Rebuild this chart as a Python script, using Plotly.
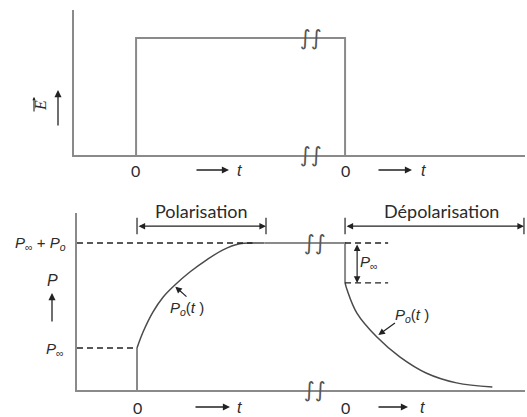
import plotly.graph_objects as go

# field step (top panel)
E_level = 1.0
t_pulse_end = 10.0          # where the second time origin sits on the drawn axis
t_break = [8.37, 8.56]      # break marks (top, bottom)

# polarisation response (bottom panel)
P_inf = 1.0
P_total = 3.5               # P_inf + P_o
t_rise = [0, 0.29, 0.77, 1.25, 1.82, 2.54, 3.35, 4.11, 4.93, 5.55, 6.12]
p_rise = [1.0, 1.38, 1.86, 2.21, 2.50, 2.81, 3.10, 3.33, 3.48, 3.50, 3.50]
t_decay = [0, 0.10, 0.57, 1.53, 2.63, 3.92, 5.36, 7.08]
p_decay = [2.55, 2.38, 1.83, 1.26, 0.79, 0.40, 0.17, 0.07]

GRAY = "#8a8a8a"
DARK = "#4a4a4a"
TXT = "#2b2b2b"
MATH = "Liberation Sans"
SANS = "Lato"
W, H = 527, 417

fig = go.Figure()

# top: rectangular field pulse
fig.add_trace(go.Scatter(x=[0, 0, t_pulse_end, t_pulse_end], y=[0, E_level, E_level, 0],
                         mode="lines", line=dict(color=GRAY, width=2),
                         xaxis="x", yaxis="y", hoverinfo="skip"))

# bottom: polarisation
fig.add_trace(go.Scatter(x=[0, 0], y=[0, P_inf], mode="lines",
                         line=dict(color=GRAY, width=2), xaxis="x2", yaxis="y2"))
fig.add_trace(go.Scatter(x=t_rise, y=p_rise, mode="lines", line_shape="spline",
                         line=dict(color=DARK, width=1.5), xaxis="x2", yaxis="y2"))
fig.add_trace(go.Scatter(x=[t_rise[-1], t_pulse_end, t_pulse_end], y=[P_total, P_total, p_decay[0]],
                         mode="lines", line=dict(color=GRAY, width=2), xaxis="x2", yaxis="y2"))
fig.add_trace(go.Scatter(x=[t_pulse_end + t for t in t_decay], y=p_decay, mode="lines",
                         line_shape="spline", line=dict(color=DARK, width=1.5),
                         xaxis="x2", yaxis="y2"))

# dashed guide lines
x2_left = -2.885
dash = dict(color="#222", width=1.3, dash="6px,4px")
fig.add_trace(go.Scatter(x=[x2_left, t_rise[-2]], y=[P_total, P_total], mode="lines",
                         line=dash, xaxis="x2", yaxis="y2"))
fig.add_trace(go.Scatter(x=[x2_left, 0], y=[P_inf, P_inf], mode="lines",
                         line=dash, xaxis="x2", yaxis="y2"))
fig.add_trace(go.Scatter(x=[t_pulse_end, t_pulse_end + 2.07], y=[P_total, P_total], mode="lines",
                         line=dash, xaxis="x2", yaxis="y2"))
fig.add_trace(go.Scatter(x=[t_pulse_end, t_pulse_end + 2.07], y=[p_decay[0], p_decay[0]],
                         mode="lines", line=dash, xaxis="x2", yaxis="y2"))

# bracket end ticks
for xt in [0, 6.2, t_pulse_end, 18.6]:
    fig.add_trace(go.Scatter(x=[xt, xt], y=[3.71, 4.10], mode="lines", cliponaxis=False,
                             line=dict(color="#333", width=1.3), xaxis="x2", yaxis="y2"))

ann = []


def arrow(x, y, ax, ay, xr, yr, side="end", w=1.2):
    ann.append(dict(x=x, y=y, ax=ax, ay=ay, xref=xr, yref=yr, axref=xr, ayref=yr,
                    text="", showarrow=True, arrowhead=2, arrowsize=1.1, arrowwidth=w,
                    arrowcolor="#222", arrowside=side))


def parrow(x0, y0, x1, y1, size=1.1, w=1.3):
    # arrow placed in page pixels: tail (x0, y0) -> head (x1, y1)
    ann.append(dict(x=x1 / W, y=1 - y1 / H, ax=x0 - x1, ay=y0 - y1,
                    xref="paper", yref="paper", axref="pixel", ayref="pixel",
                    text="", showarrow=True, arrowhead=2, arrowsize=size, arrowwidth=w,
                    arrowcolor="#222"))


def label(x, y, text, xr, yr, size=13, font=MATH, angle=0, color=TXT, xanchor="center"):
    if xr == "paper":
        x = x / W
    if yr == "paper":
        y = 1 - y / H
    ann.append(dict(x=x, y=y, xref=xr, yref=yr, text=text, showarrow=False,
                    textangle=angle, xanchor=xanchor, yanchor="middle",
                    font=dict(family=font, size=size, color=color)))


# brackets
arrow(6.2, 3.90, 0, 3.90, "x2", "y2", side="end+start")
arrow(18.6, 3.90, t_pulse_end, 3.90, "x2", "y2", side="end+start")
label(201, 211, "Polarisation", "paper", "paper", size=18, font=SANS)
label(441, 211, "Dépolarisation", "paper", "paper", size=18, font=SANS)

# P_inf double arrow on the right
arrow(t_pulse_end + 0.58, p_decay[0], t_pulse_end + 0.58, P_total, "x2", "y2", side="end+start")
label(t_pulse_end + 1.14, 3.03, "<i>P</i><sub>∞</sub>", "x2", "y2", size=15)

# P_o(t) pointers
arrow(1.84, 2.46, 2.45, 2.19, "x2", "y2")
label(2.4, 1.95, "<i>P<sub>o</sub></i>(<i>t</i> )", "x2", "y2", size=15)
arrow(t_pulse_end + 1.6, 1.31, t_pulse_end + 2.47, 1.62, "x2", "y2")
label(t_pulse_end + 3.24, 1.78, "<i>P<sub>o</sub></i>(<i>t</i> )", "x2", "y2", size=15)

# left labels of P panel
label(68, 243, "<i>P</i><sub>∞</sub> + <i>P<sub>o</sub></i>", "paper", "paper", size=15, xanchor="right")
label(52, 280, "<i>P</i>", "paper", "paper", size=16)
label(55, 349, "<i>P</i><sub>∞</sub>", "paper", "paper", size=15)
parrow(52, 323, 52, 293)

# E label on top panel, with its vector arrow drawn alongside
label(41, 106, "<i>E</i>", "paper", "paper", size=16, font="Liberation Serif", angle=-90)
parrow(34, 113, 34, 97, size=0.6, w=1.1)
parrow(58, 127, 58, 90)

# time axis labels
for ypx, xs0, xs1 in [(170, 135, 345), (407, 137, 345)]:
    label(xs0, ypx, "0", "paper", "paper", size=16, font=SANS)
    label(xs1, ypx, "0", "paper", "paper", size=16, font=SANS)

for ypx, a0, a1, tl, b0, b1, tr in [(170, 195, 229, 239, 377, 412, 423), (407, 194, 230, 239, 377, 408, 422)]:
    for s, e, tx in [(a0, a1, tl), (b0, b1, tr)]:
        parrow(s, ypx, e, ypx)
        label(tx, ypx, "<i>t</i>", "paper", "paper", size=16)

# break marks
for xb, yb, xr, yr in [(t_break[0], E_level, "x", "y"), (t_break[0], 0, "x", "y"),
                       (t_break[1], P_total, "x2", "y2"), (t_break[1], 0, "x2", "y2")]:
    label(xb, yb, "<i>∫∫</i>", xr, yr, size=21, font="DejaVu Sans", color="#555")

axis_common = dict(showgrid=False, zeroline=False, showticklabels=False, ticks="",
                   showline=True, linecolor=GRAY, linewidth=2)

fig.update_layout(
    width=W, height=H,
    margin=dict(l=0, r=0, t=0, b=0),
    plot_bgcolor="white", paper_bgcolor="white",
    showlegend=False,
    xaxis=dict(axis_common, domain=[74 / W, 525 / W], range=[-2.97, 18.61], anchor="y"),
    yaxis=dict(axis_common, domain=[1 - 155 / H, 1 - 10 / H], range=[0, 1.239], anchor="x"),
    xaxis2=dict(axis_common, domain=[77 / W, 525 / W], range=[x2_left, 18.65], anchor="y2"),
    yaxis2=dict(axis_common, domain=[1 - 390 / H, 1 - 213 / H], range=[0, 4.214], anchor="x2"),
    annotations=ann,
)

fig.write_html("out.html", config={"displayModeBar": False},
               post_script="document.body.style.margin='0';")
